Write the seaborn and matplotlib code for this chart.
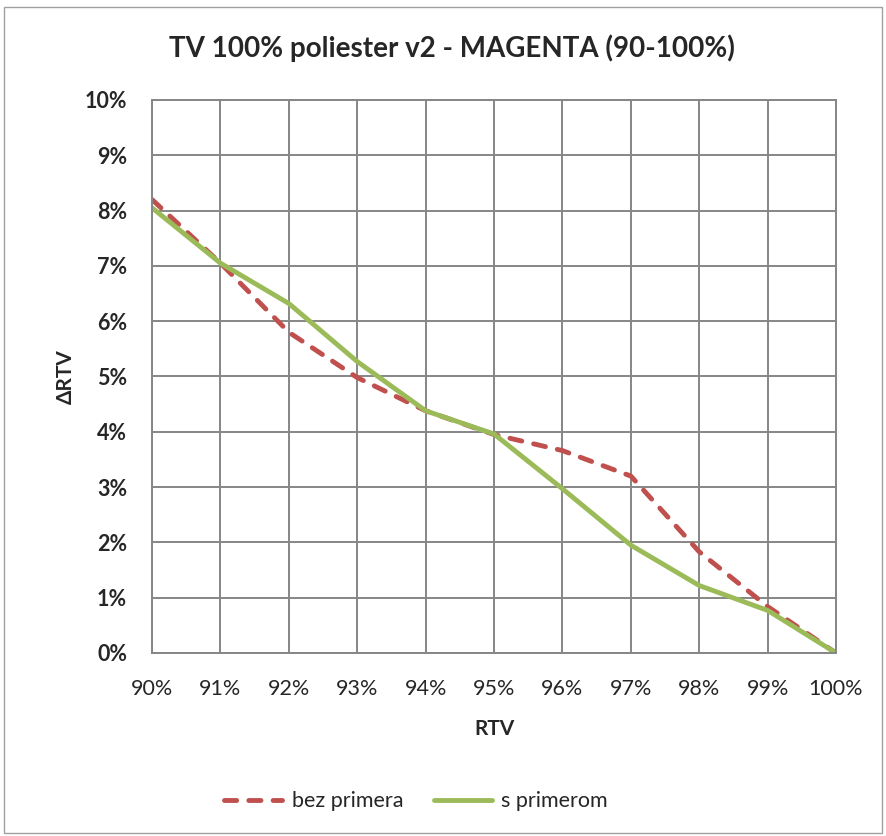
import numpy as np
import pandas as pd
import matplotlib
matplotlib.use("Agg")
import matplotlib.pyplot as plt
import seaborn as sns
from matplotlib.patches import Rectangle
from matplotlib.ticker import PercentFormatter

# podaci ocitani sa grafika
rtv = [90, 91, 92, 93, 94, 95, 96, 97, 98, 99, 100]
bez_primera = [8.2, 7.05, 5.8, 4.98, 4.38, 3.95, 3.66, 3.2, 1.83, 0.84, 0.0]
s_primerom = [8.05, 7.05, 6.32, 5.27, 4.38, 3.96, 2.97, 1.95, 1.22, 0.77, 0.0]

naslov = "TV 100% poliester v2 - MAGENTA (90-100%)"
crvena = "#C0504D"
zelena = "#9BBB59"
siva = "#868686"

sns.set_style("white")
plt.rcParams['font.family'] = ['Lato', 'DejaVu Sans']

df = pd.DataFrame({'RTV': rtv, 'bez primera': bez_primera, 's primerom': s_primerom})

fig = plt.figure(figsize=(8.86, 8.36), dpi=100)
ax = fig.add_axes([0.1716, 0.2189, 0.772, 0.6615])

sns.lineplot(data=df, x='RTV', y='bez primera', ax=ax, color=crvena, lw=3.5,
             label='bez primera')
ax.lines[-1].set_dashes((2.5, 2.5))
ax.lines[-1].set_dash_capstyle('round')
ax.lines[-1].set_dash_joinstyle('round')
sns.lineplot(data=df, x='RTV', y='s primerom', ax=ax, color=zelena, lw=3.5,
             label='s primerom', solid_joinstyle='round', solid_capstyle='round')

ax.set_xlim(90, 100)
ax.set_ylim(0, 10)
ax.set_xticks(rtv)
ax.set_yticks(range(0, 11))
ax.xaxis.set_major_formatter(PercentFormatter(decimals=0))
ax.yaxis.set_major_formatter(PercentFormatter(decimals=0))
ax.grid(True, color=siva, lw=1.4)
ax.set_axisbelow(True)
for s in ax.spines.values():
    s.set_color(siva)
    s.set_linewidth(1.4)
ax.tick_params(axis='x', labelsize=15.5, pad=19, length=0)
ax.tick_params(axis='y', labelsize=15.5, pad=18, length=0)
for t in ax.get_yticklabels():
    t.set_fontweight('bold')

ax.set_xlabel('RTV', fontsize=15, fontweight='bold', labelpad=14)
ax.set_ylabel('ΔRTV', fontsize=15, fontweight='bold', labelpad=6)
fig.text(0.51, 0.942, naslov, ha='center', va='center', fontsize=20, fontweight='bold')

ax.legend(loc='center', bbox_to_anchor=(0.386, -0.268), ncol=2, frameon=False,
          fontsize=15.5, handlelength=2.7, columnspacing=1.4, handletextpad=0.45)

fig.patches.append(Rectangle((0.005, 0.003), 0.99, 0.989, transform=fig.transFigure,
                             fill=False, edgecolor='#A0A0A0', lw=1.0))

fig.savefig('out.png', dpi=100, facecolor='white')
